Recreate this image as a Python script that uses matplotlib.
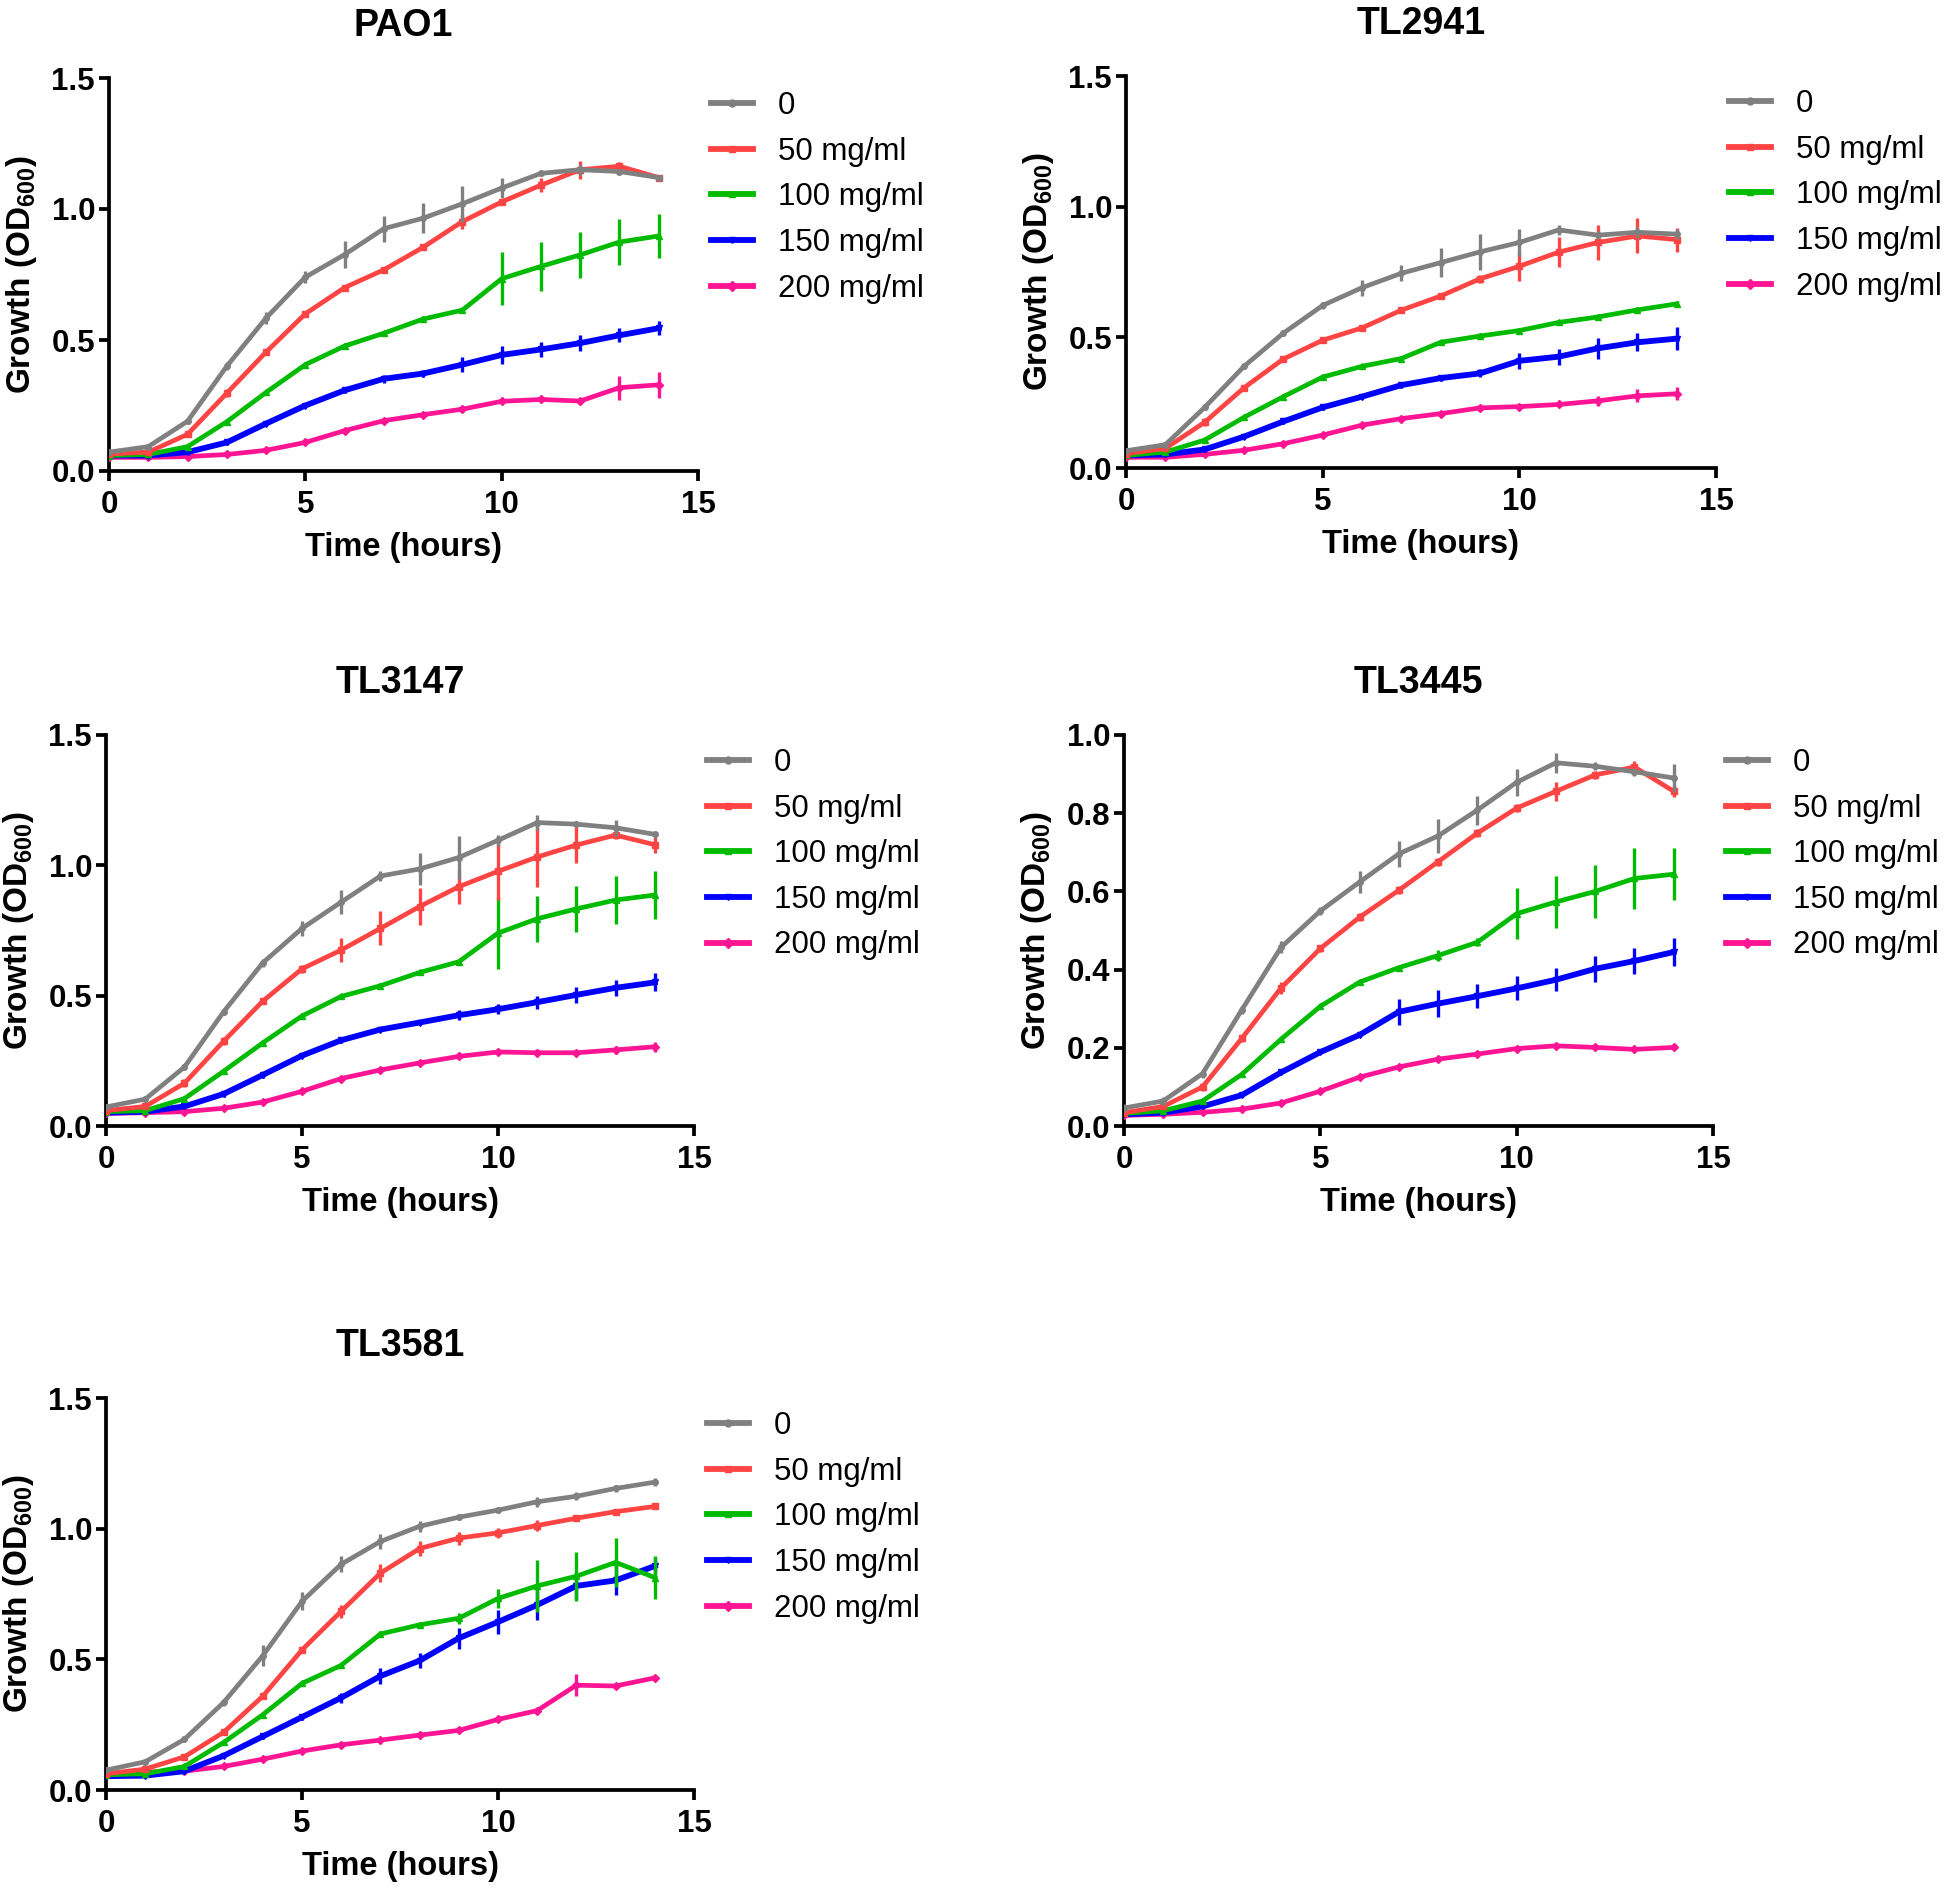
import matplotlib
matplotlib.use("Agg")
import matplotlib.pyplot as plt
from matplotlib.lines import Line2D

plt.rcParams["font.family"] = ["Liberation Sans", "DejaVu Sans"]
plt.rcParams["mathtext.default"] = "regular"

hours = list(range(15))
labels = ["0", "50 mg/ml", "100 mg/ml", "150 mg/ml", "200 mg/ml"]
colors = ["#808080", "#ff4444", "#00bb00", "#0000ff", "#ff1493"]
markers = ["o", "s", "^", "v", "D"]
strains = ["PAO1", "TL2941", "TL3147", "TL3445", "TL3581"]

# mean OD600, one row per concentration (0, 50, 100, 150, 200 mg/ml)
pao1_mean = [
    [0.072, 0.093, 0.19, 0.40, 0.584, 0.74, 0.826, 0.925, 0.965, 1.02, 1.08, 1.136, 1.15, 1.143, 1.12],
    [0.065, 0.072, 0.14, 0.297, 0.454, 0.60, 0.70, 0.768, 0.854, 0.952, 1.027, 1.091, 1.15, 1.163, 1.12],
    [0.059, 0.063, 0.093, 0.188, 0.30, 0.406, 0.477, 0.526, 0.58, 0.614, 0.734, 0.781, 0.825, 0.874, 0.897],
    [0.059, 0.059, 0.072, 0.109, 0.181, 0.25, 0.308, 0.352, 0.372, 0.406, 0.443, 0.464, 0.488, 0.518, 0.545],
    [0.052, 0.052, 0.055, 0.063, 0.079, 0.109, 0.154, 0.192, 0.215, 0.236, 0.266, 0.273, 0.267, 0.318, 0.329],
]
pao1_err = [
    [0.01, 0.01, 0.01, 0.015, 0.024, 0.024, 0.05, 0.05, 0.058, 0.068, 0.037, 0.01, 0.02, 0.01, 0.01],
    [0.01, 0.01, 0.01, 0.015, 0.01, 0.01, 0.01, 0.01, 0.01, 0.03, 0.01, 0.027, 0.034, 0.015, 0.01],
    [0.01, 0.01, 0.01, 0.01, 0.01, 0.01, 0.01, 0.01, 0.01, 0.01, 0.102, 0.093, 0.087, 0.087, 0.084],
    [0.01, 0.01, 0.01, 0.01, 0.01, 0.01, 0.01, 0.015, 0.015, 0.03, 0.035, 0.03, 0.03, 0.027, 0.027],
    [0.005, 0.005, 0.005, 0.005, 0.005, 0.005, 0.005, 0.005, 0.005, 0.005, 0.005, 0.005, 0.01, 0.046, 0.049],
]

tl2941_mean = [
    [0.066, 0.089, 0.232, 0.389, 0.516, 0.622, 0.69, 0.745, 0.786, 0.827, 0.863, 0.911, 0.891, 0.902, 0.895],
    [0.055, 0.075, 0.175, 0.307, 0.417, 0.489, 0.536, 0.604, 0.658, 0.724, 0.772, 0.826, 0.863, 0.888, 0.874],
    [0.048, 0.061, 0.107, 0.194, 0.273, 0.348, 0.389, 0.419, 0.481, 0.505, 0.526, 0.557, 0.578, 0.605, 0.628],
    [0.048, 0.052, 0.071, 0.12, 0.178, 0.232, 0.273, 0.317, 0.344, 0.362, 0.41, 0.426, 0.458, 0.481, 0.495],
    [0.041, 0.041, 0.052, 0.068, 0.093, 0.126, 0.164, 0.189, 0.208, 0.23, 0.235, 0.243, 0.257, 0.276, 0.284],
]
tl2941_err = [
    [0.01, 0.01, 0.01, 0.01, 0.01, 0.015, 0.03, 0.03, 0.055, 0.068, 0.053, 0.02, 0.015, 0.02, 0.02],
    [0.01, 0.01, 0.015, 0.01, 0.01, 0.01, 0.01, 0.01, 0.01, 0.015, 0.055, 0.058, 0.068, 0.067, 0.046],
    [0.01, 0.01, 0.01, 0.01, 0.01, 0.01, 0.01, 0.01, 0.01, 0.01, 0.01, 0.01, 0.01, 0.01, 0.01],
    [0.01, 0.01, 0.01, 0.01, 0.01, 0.01, 0.01, 0.01, 0.01, 0.015, 0.03, 0.03, 0.04, 0.035, 0.045],
    [0.005, 0.005, 0.005, 0.005, 0.005, 0.005, 0.005, 0.005, 0.01, 0.01, 0.01, 0.01, 0.02, 0.025, 0.025],
]

tl3147_mean = [
    [0.073, 0.103, 0.226, 0.438, 0.626, 0.758, 0.859, 0.959, 0.986, 1.03, 1.096, 1.164, 1.158, 1.144, 1.119],
    [0.059, 0.075, 0.164, 0.325, 0.479, 0.603, 0.675, 0.758, 0.842, 0.918, 0.977, 1.032, 1.078, 1.116, 1.079],
    [0.055, 0.059, 0.105, 0.21, 0.319, 0.422, 0.497, 0.538, 0.589, 0.63, 0.74, 0.795, 0.833, 0.867, 0.886],
    [0.051, 0.055, 0.075, 0.123, 0.196, 0.27, 0.329, 0.37, 0.397, 0.425, 0.448, 0.475, 0.503, 0.53, 0.551],
    [0.048, 0.051, 0.055, 0.068, 0.092, 0.133, 0.182, 0.215, 0.242, 0.267, 0.284, 0.281, 0.281, 0.292, 0.304],
]
tl3147_err = [
    [0.01, 0.01, 0.01, 0.01, 0.015, 0.03, 0.045, 0.02, 0.06, 0.082, 0.02, 0.03, 0.01, 0.03, 0.01],
    [0.01, 0.01, 0.015, 0.015, 0.01, 0.015, 0.046, 0.065, 0.071, 0.065, 0.11, 0.116, 0.068, 0.015, 0.03],
    [0.01, 0.01, 0.01, 0.01, 0.01, 0.01, 0.01, 0.01, 0.01, 0.01, 0.137, 0.089, 0.089, 0.092, 0.092],
    [0.01, 0.01, 0.01, 0.01, 0.01, 0.01, 0.01, 0.01, 0.01, 0.02, 0.02, 0.025, 0.03, 0.03, 0.035],
    [0.005, 0.005, 0.005, 0.005, 0.005, 0.005, 0.005, 0.005, 0.005, 0.005, 0.005, 0.005, 0.01, 0.015, 0.02],
]

tl3445_mean = [
    [0.046, 0.064, 0.134, 0.297, 0.457, 0.55, 0.624, 0.696, 0.742, 0.808, 0.879, 0.929, 0.92, 0.906, 0.89],
    [0.034, 0.05, 0.1, 0.224, 0.353, 0.454, 0.534, 0.603, 0.676, 0.749, 0.813, 0.856, 0.898, 0.918, 0.856],
    [0.032, 0.039, 0.064, 0.132, 0.222, 0.306, 0.368, 0.405, 0.436, 0.47, 0.543, 0.573, 0.60, 0.633, 0.644],
    [0.03, 0.034, 0.05, 0.079, 0.137, 0.189, 0.233, 0.292, 0.313, 0.332, 0.352, 0.374, 0.402, 0.422, 0.445],
    [0.027, 0.03, 0.035, 0.043, 0.059, 0.089, 0.125, 0.151, 0.171, 0.184, 0.198, 0.205, 0.201, 0.196, 0.201],
]
tl3445_err = [
    [0.01, 0.01, 0.01, 0.01, 0.015, 0.01, 0.027, 0.034, 0.043, 0.037, 0.035, 0.026, 0.01, 0.01, 0.037],
    [0.005, 0.005, 0.01, 0.01, 0.015, 0.01, 0.01, 0.01, 0.01, 0.01, 0.01, 0.025, 0.01, 0.015, 0.015],
    [0.005, 0.005, 0.005, 0.005, 0.005, 0.005, 0.005, 0.005, 0.015, 0.01, 0.065, 0.066, 0.068, 0.079, 0.067],
    [0.005, 0.005, 0.005, 0.005, 0.005, 0.005, 0.005, 0.033, 0.034, 0.031, 0.031, 0.029, 0.034, 0.034, 0.036],
    [0.005, 0.005, 0.005, 0.005, 0.005, 0.005, 0.005, 0.005, 0.005, 0.005, 0.005, 0.005, 0.005, 0.005, 0.005],
]

tl3581_mean = [
    [0.076, 0.108, 0.194, 0.335, 0.514, 0.722, 0.864, 0.951, 1.009, 1.044, 1.071, 1.103, 1.124, 1.154, 1.178],
    [0.062, 0.08, 0.127, 0.221, 0.359, 0.536, 0.684, 0.83, 0.924, 0.964, 0.984, 1.012, 1.04, 1.065, 1.085],
    [0.058, 0.062, 0.09, 0.182, 0.288, 0.408, 0.477, 0.597, 0.632, 0.657, 0.733, 0.781, 0.818, 0.871, 0.813],
    [0.053, 0.055, 0.072, 0.131, 0.205, 0.279, 0.353, 0.436, 0.495, 0.581, 0.643, 0.708, 0.781, 0.802, 0.857],
    [0.058, 0.069, 0.072, 0.09, 0.118, 0.149, 0.173, 0.191, 0.21, 0.228, 0.27, 0.304, 0.401, 0.398, 0.429],
]
tl3581_err = [
    [0.01, 0.01, 0.01, 0.015, 0.04, 0.035, 0.03, 0.03, 0.02, 0.01, 0.01, 0.02, 0.015, 0.015, 0.015],
    [0.01, 0.01, 0.01, 0.01, 0.01, 0.01, 0.025, 0.035, 0.03, 0.025, 0.02, 0.02, 0.01, 0.01, 0.01],
    [0.01, 0.01, 0.01, 0.01, 0.01, 0.01, 0.01, 0.01, 0.01, 0.02, 0.035, 0.1, 0.093, 0.093, 0.083],
    [0.01, 0.01, 0.01, 0.01, 0.01, 0.01, 0.02, 0.03, 0.03, 0.04, 0.045, 0.058, 0.05, 0.054, 0.03],
    [0.005, 0.005, 0.005, 0.005, 0.005, 0.005, 0.005, 0.005, 0.005, 0.005, 0.005, 0.005, 0.043, 0.005, 0.005],
]

means = [pao1_mean, tl2941_mean, tl3147_mean, tl3445_mean, tl3581_mean]
errs = [pao1_err, tl2941_err, tl3147_err, tl3445_err, tl3581_err]
y_max = [1.5, 1.5, 1.5, 1.0, 1.5]
y_step = [0.5, 0.5, 0.5, 0.2, 0.5]

W, H = 1946, 1887
# axes boxes in pixels: left, right, top, bottom
boxes = [
    (109, 698, 78, 471),
    (1126, 1716, 76, 468),
    (106, 694, 735, 1126),
    (1124, 1713, 735, 1126),
    (106, 694, 1398, 1790),
]


def draw_panel(fig, box, title, mean, err, ymax, ystep):
    l, r, t, b = box
    ax = fig.add_axes([l / W, 1 - b / H, (r - l) / W, (b - t) / H])
    for i in reversed(range(5)):
        ax.errorbar(hours, mean[i], yerr=err[i], color=colors[i], lw=4.2 if i == 3 else 3.4,
                    elinewidth=2.4, capsize=0, marker=markers[i], markersize=4,
                    zorder=10 - i)
    ax.set_xlim(0, 15)
    ax.set_ylim(0, ymax)
    ax.set_xticks([0, 5, 10, 15])
    n = int(round(ymax / ystep))
    ax.set_yticks([k * ystep for k in range(n + 1)])
    ax.set_yticklabels([f"{k * ystep:.1f}" for k in range(n + 1)])
    for s in ["top", "right"]:
        ax.spines[s].set_visible(False)
    for s in ["left", "bottom"]:
        ax.spines[s].set_linewidth(2.7)
    ax.tick_params(direction="out", length=7, width=2.7, labelsize=22.5)
    ax.tick_params(axis="x", pad=7)
    ax.tick_params(axis="y", pad=3)
    for lab in ax.get_xticklabels() + ax.get_yticklabels():
        lab.set_fontweight("bold")
    ax.set_xlabel("Time (hours)", fontsize=23.5, fontweight="bold", labelpad=8)
    ax.set_ylabel("Growth (OD$_{600}$)", fontsize=24, fontweight="bold", labelpad=9)
    ax.set_title(title, fontsize=27, fontweight="bold", pad=30)

    handles = [Line2D([], [], color=colors[i], lw=4.2, marker=markers[i], markersize=5)
               for i in range(5)]
    ax.legend(handles, labels, loc="upper left",
              bbox_to_anchor=((r + 13) / W, 1 - (t + 13) / H), bbox_transform=fig.transFigure,
              frameon=False, fontsize=22.5, handlelength=1.35, handletextpad=0.8,
              labelspacing=0.5, borderpad=0, borderaxespad=0)
    return ax


def main():
    fig = plt.figure(figsize=(W / 100, H / 100), dpi=100)
    for k in range(5):
        draw_panel(fig, boxes[k], strains[k], means[k], errs[k], y_max[k], y_step[k])
    fig.savefig("out.png", dpi=100)


if __name__ == "__main__":
    main()
